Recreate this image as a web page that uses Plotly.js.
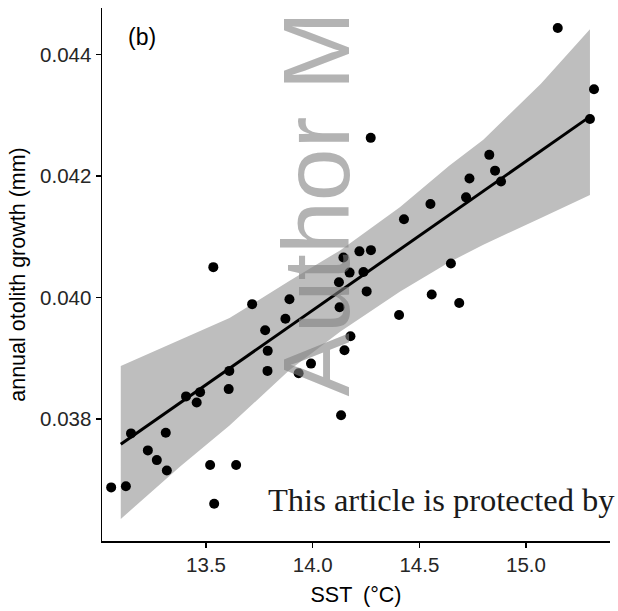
<!DOCTYPE html>
<html>
<head>
<meta charset="utf-8">
<script src="https://cdn.plot.ly/plotly-3.0.1.min.js"></script>
<style>
  html, body { margin: 0; padding: 0; background: #ffffff; }
  #chart { width: 618px; height: 611px; }
</style>
</head>
<body>
<div id="chart"></div>
<script>
// Observed data points
const sst = [13.055,13.124,13.148,13.227,13.269,13.316,13.311,13.406,13.456,13.472,
             13.519,13.538,13.534,13.606,13.609,13.641,13.716,13.777,13.789,13.788,
             13.872,13.891,13.934,13.992,14.123,14.126,14.133,14.144,14.149,14.173,
             14.177,14.219,14.238,14.253,14.273,14.272,14.405,14.428,14.552,14.558,
             14.648,14.687,14.719,14.735,14.828,14.855,14.883,15.149,15.300,15.319];
const growth = [0.03687,0.03689,0.03776,0.03748,0.03732,0.03715,0.03777,0.03837,0.03827,0.03844,
                0.03724,0.03660,0.04050,0.03849,0.03879,0.03724,0.03989,0.03946,0.03912,0.03879,
                0.03965,0.03997,0.03875,0.03891,0.04025,0.03984,0.03806,0.04066,0.03913,0.04041,
                0.03936,0.04076,0.04042,0.04010,0.04078,0.04263,0.03971,0.04129,0.04154,0.04005,
                0.04056,0.03991,0.04165,0.04196,0.04235,0.04209,0.04191,0.04444,0.04294,0.04343];

// Fitted line (read endpoints)
const fitX = [13.10, 15.30];
const fitY = [0.03758, 0.04298];

// Confidence band
const bandX = [13.10,13.38,13.61,13.89,14.13,14.41,14.64,14.80,15.07,15.30];
const bandUpper = [0.03887,0.03931,0.03966,0.04027,0.04078,0.04149,0.04217,0.04260,0.04352,0.04442];
const bandLower = [0.03635,0.03722,0.03789,0.03880,0.03944,0.04010,0.04058,0.04087,0.04131,0.04169];

// Tick labels
const xTicks = [13.5, 14.0, 14.5, 15.0];
const xTickText = ['13.5', '14.0', '14.5', '15.0'];
const yTicks = [0.038, 0.040, 0.042, 0.044];
const yTickText = ['0.038', '0.040', '0.042', '0.044'];

const traces = [
  { x: bandX, y: bandLower, type: 'scatter', mode: 'lines',
    line: { width: 0, color: 'rgba(0,0,0,0)' }, hoverinfo: 'skip', showlegend: false },
  { x: bandX, y: bandUpper, type: 'scatter', mode: 'lines', fill: 'tonexty',
    fillcolor: '#bebebe', line: { width: 0, color: 'rgba(0,0,0,0)' },
    hoverinfo: 'skip', showlegend: false },
  { x: fitX, y: fitY, type: 'scatter', mode: 'lines',
    line: { color: '#000000', width: 3 }, showlegend: false },
  { x: sst, y: growth, type: 'scatter', mode: 'markers',
    marker: { color: '#000000', size: 10 }, showlegend: false }
];

const axisFont = { family: 'Liberation Sans, Arial, sans-serif', size: 20.5, color: '#262626' };
const titleFont = { family: 'Liberation Sans, Arial, sans-serif', size: 21.5, color: '#000000' };

const layout = {
  width: 618, height: 611,
  margin: { l: 102, r: 8, t: 8, b: 70 },
  paper_bgcolor: '#ffffff', plot_bgcolor: '#ffffff',
  showlegend: false,
  xaxis: {
    range: [13.012, 15.394],
    tickvals: xTicks, ticktext: xTickText,
    showgrid: false, zeroline: false,
    showline: true, linecolor: '#000000', linewidth: 1.5,
    ticks: 'outside', ticklen: 5, tickwidth: 1.5, tickcolor: '#000000',
    tickfont: axisFont,
    title: { text: 'SST\u2002(°C)', font: titleFont, standoff: 12 }
  },
  yaxis: {
    range: [0.035987, 0.04477],
    tickvals: yTicks, ticktext: yTickText,
    showgrid: false, zeroline: false,
    showline: true, linecolor: '#000000', linewidth: 1.5,
    ticks: 'outside', ticklen: 5, tickwidth: 1.5, tickcolor: '#000000',
    tickfont: axisFont,
    title: { text: 'annual otolith growth (mm)', font: titleFont, standoff: 8 }
  },
  annotations: [
    { text: '(b)', xref: 'paper', yref: 'paper', x: 0.047, y: 0.9456,
      xanchor: 'left', yanchor: 'middle', showarrow: false,
      font: { family: 'Liberation Sans, Arial, sans-serif', size: 23, color: '#000000' } },
    { text: 'Author M', xref: 'paper', yref: 'paper', x: 0.421, y: 0.2679,
      xanchor: 'center', yanchor: 'bottom', textangle: -90, showarrow: false,
      font: { family: 'Liberation Sans, Arial, sans-serif', size: 95, color: 'rgba(128,128,128,0.6)' } },
    { text: 'This article is protected by', xref: 'paper', yref: 'paper',
      x: 0.3228, y: 0.0764, xanchor: 'left', yanchor: 'middle', showarrow: false,
      font: { family: 'Liberation Serif, DejaVu Serif, serif', size: 32.5, color: '#1a1a1a' } }
  ]
};

Plotly.newPlot('chart', traces, layout, { displayModeBar: false, staticPlot: true });
</script>
</body>
</html>
